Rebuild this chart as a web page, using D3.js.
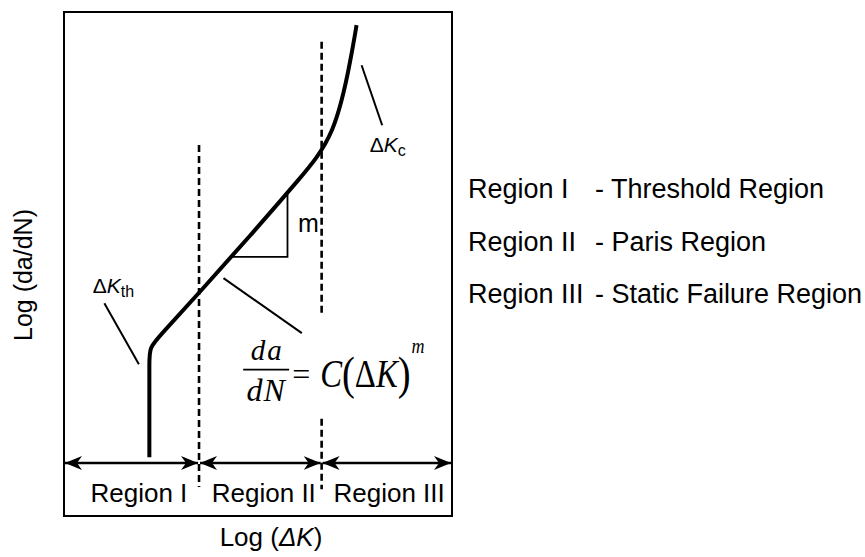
<!DOCTYPE html>
<html>
<head>
<meta charset="utf-8">
<script src="https://cdn.jsdelivr.net/npm/d3@7/dist/d3.min.js"></script>
<style>
  html, body { margin: 0; padding: 0; background: #fff; }
  svg { display: block; }
  .sans { font-family: "Liberation Sans", Arial, sans-serif; }
  .serif { font-family: "Liberation Serif", "Times New Roman", serif; }
</style>
</head>
<body>
<svg id="chart" width="865" height="557"></svg>
<script>
// Schematic fatigue crack growth curve: log(da/dN) against log(ΔK), arbitrary units.
// Control points of a smooth B-spline: vertical threshold, straight Paris line, steep final rise.
const logDeltaK = [2.20, 2.20, 2.20, 2.20, 2.47, 3.51, 4.79, 6.05, 7.00, 7.42, 7.54];
const logRate   = [0.13, 1.40, 2.24, 2.56, 2.82, 3.80, 5.03, 6.28, 7.25, 9.09, 9.71];

// Region boundaries along log(ΔK)
const regionEdges = [0, 3.48, 6.64, 10];
const regionNames = ["Region I", "Region II", "Region III"];
const regionLabelX = [1.93, 5.15, 8.38];
const regionDescriptions = ["- Threshold Region", "- Paris Region", "- Static Failure Region"];

// Dashed boundary segments: [x, yTop, yBottom]
const boundarySegments = [
  [3.48, 7.05, -0.53],
  [6.64, 9.34, 3.33],
  [6.64, 0.98, -0.58]
];

// Slope triangle on the Paris line
const slopeTriangle = [[4.28, 4.57], [5.76, 4.57], [5.76, 6.02]];

// Leader lines for the annotations: [x1, y1, x2, y2]
const leaders = [
  [1.04, 3.54, 1.93, 2.19],   // ΔKth
  [7.67, 8.82, 8.20, 7.49],   // ΔKc
  [4.11, 4.10, 6.13, 2.88]    // Paris law
];

const yBottom = -1.175;   // lower edge of the frame (region band)
const yLabel = -0.865;    // baseline of the region labels

const svg = d3.select("#chart");
const x = d3.scaleLinear().domain([0, 10]).range([64, 452]);
const y = d3.scaleLinear().domain([0, 10]).range([463, 12]);

// Arrowhead marker
const defs = svg.append("defs");
defs.append("marker")
  .attr("id", "head")
  .attr("viewBox", "0 -7.5 17 15")
  .attr("refX", 17).attr("refY", 0)
  .attr("markerUnits", "userSpaceOnUse")
  .attr("markerWidth", 17).attr("markerHeight", 15)
  .attr("orient", "auto-start-reverse")
  .append("path")
  .attr("d", "M0,-7 L17,0 L0,7 L5,0 Z")
  .attr("fill", "#000");

// Frame
svg.append("rect")
  .attr("x", x(0)).attr("y", y(10))
  .attr("width", x(10) - x(0)).attr("height", y(yBottom) - y(10))
  .attr("fill", "none").attr("stroke", "#000").attr("stroke-width", 2);

// Dashed region boundaries
svg.selectAll("line.boundary").data(boundarySegments).join("line")
  .attr("class", "boundary")
  .attr("x1", d => x(d[0])).attr("x2", d => x(d[0]))
  .attr("y1", d => y(d[1])).attr("y2", d => y(d[2]))
  .attr("stroke", "#000").attr("stroke-width", 2.6)
  .attr("stroke-dasharray", "7,4");

// Region span arrows
const spans = d3.range(regionNames.length).map(i => [regionEdges[i], regionEdges[i + 1]]);
svg.selectAll("line.span").data(spans).join("line")
  .attr("class", "span")
  .attr("x1", d => x(d[0]) + 1).attr("x2", d => x(d[1]) - 1)
  .attr("y1", y(0)).attr("y2", y(0))
  .attr("stroke", "#000").attr("stroke-width", 2.6)
  .attr("marker-start", "url(#head)").attr("marker-end", "url(#head)");

// Region labels in the band
svg.selectAll("text.region").data(regionNames).join("text")
  .attr("class", "region sans")
  .attr("x", (d, i) => x(regionLabelX[i])).attr("y", y(yLabel))
  .attr("text-anchor", "middle").attr("font-size", 26)
  .text(d => d);

// Crack growth curve
const curvePts = logDeltaK.map((k, i) => [k, logRate[i]]);
svg.append("path")
  .datum(curvePts)
  .attr("d", d3.line().x(d => x(d[0])).y(d => y(d[1])).curve(d3.curveBasis))
  .attr("fill", "none").attr("stroke", "#000").attr("stroke-width", 4)
  .attr("stroke-linejoin", "round");

// Slope triangle
svg.append("path")
  .datum(slopeTriangle)
  .attr("d", d3.line().x(d => x(d[0])).y(d => y(d[1])))
  .attr("fill", "none").attr("stroke", "#000").attr("stroke-width", 1.8);
svg.append("text").attr("class", "sans")
  .attr("x", x(6.03)).attr("y", y(5.12))
  .attr("font-size", 25).text("m");

// Leader lines
svg.selectAll("line.leader").data(leaders).join("line")
  .attr("class", "leader")
  .attr("x1", d => x(d[0])).attr("y1", d => y(d[1]))
  .attr("x2", d => x(d[2])).attr("y2", d => y(d[3]))
  .attr("stroke", "#000").attr("stroke-width", 2);

// ΔKth label
const kth = svg.append("text").attr("class", "sans")
  .attr("x", x(0.74)).attr("y", y(3.77)).attr("font-size", 21);
kth.append("tspan").text("Δ");
kth.append("tspan").attr("font-style", "italic").text("K");
kth.append("tspan").attr("font-size", 16).attr("dy", 4).text("th");

// ΔKc label
const kc = svg.append("text").attr("class", "sans")
  .attr("x", x(7.88)).attr("y", y(6.90)).attr("font-size", 21);
kc.append("tspan").text("Δ");
kc.append("tspan").attr("font-style", "italic").text("K");
kc.append("tspan").attr("font-size", 16).attr("dy", 4).text("c");

// Paris law: da/dN = C(ΔK)^m
const law = svg.append("g").attr("class", "serif")
  .attr("transform", `translate(${x(5.21)},${y(2.07)})`);
law.append("text").attr("x", 1).attr("y", -10).attr("text-anchor", "middle")
  .attr("font-size", 29).attr("font-style", "italic").attr("letter-spacing", 2).text("da");
law.append("line").attr("x1", -23).attr("x2", 23).attr("y1", 0).attr("y2", 0)
  .attr("stroke", "#000").attr("stroke-width", 1.8);
law.append("text").attr("x", 0).attr("y", 31).attr("text-anchor", "middle")
  .attr("font-size", 32).attr("font-style", "italic").attr("letter-spacing", 1).text("dN");
law.append("text").attr("x", 26).attr("y", 15)
  .attr("font-size", 32).text("=");
const rhs = law.append("text").attr("transform", "translate(54,17.5) scale(0.82,1)")
  .attr("font-size", 40);
rhs.append("tspan").attr("font-style", "italic").text("C");
rhs.append("tspan").attr("font-size", 47).attr("dy", 2).text("(");
rhs.append("tspan").attr("dy", -2).text("Δ");
rhs.append("tspan").attr("font-style", "italic").text("K");
rhs.append("tspan").attr("font-size", 47).attr("dy", 2).text(")");
rhs.append("tspan").attr("font-style", "italic").attr("font-size", 22).attr("dx", 1).attr("dy", -36).text("m");

// Axis titles
svg.append("text").attr("class", "sans")
  .attr("transform", "translate(32,275) rotate(-90)")
  .attr("text-anchor", "middle").attr("font-size", 25)
  .text("Log (da/dN)");
const xt = svg.append("text").attr("class", "sans")
  .attr("x", 271).attr("y", 546).attr("text-anchor", "middle").attr("font-size", 26);
xt.append("tspan").text("Log (");
xt.append("tspan").attr("font-style", "italic").text("ΔK");
xt.append("tspan").text(")");

// Region key
const keyY = [198, 250.5, 303];
svg.selectAll("text.keyname").data(regionNames).join("text")
  .attr("class", "keyname sans")
  .attr("x", 468).attr("y", (d, i) => keyY[i])
  .attr("font-size", 27).text(d => d);
svg.selectAll("text.keydesc").data(regionDescriptions).join("text")
  .attr("class", "keydesc sans")
  .attr("x", 595).attr("y", (d, i) => keyY[i])
  .attr("font-size", 27).text(d => d);
</script>
</body>
</html>
